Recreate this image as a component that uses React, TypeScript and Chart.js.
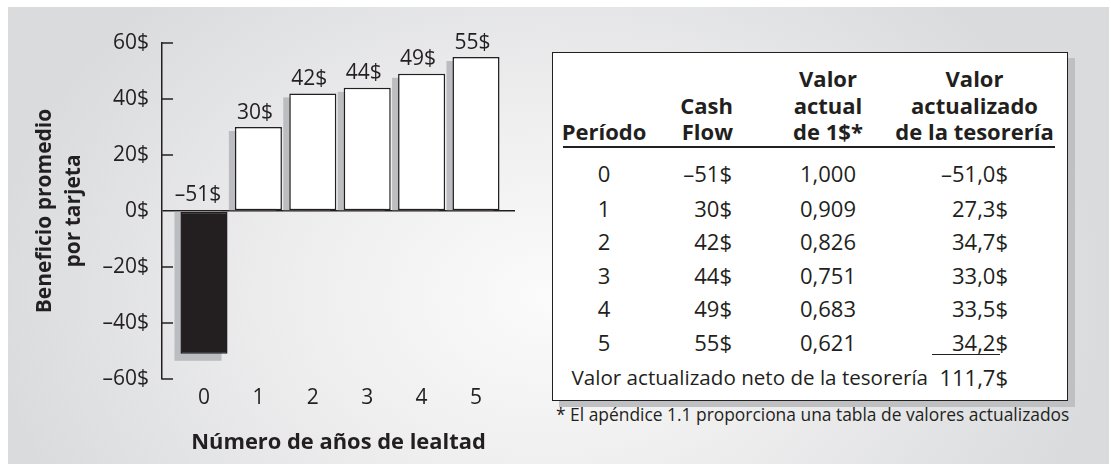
import React, { useEffect, useRef } from "react";
import { Chart, registerables } from "chart.js";

Chart.register(...registerables);

// ---- data ----
const periods = [0, 1, 2, 3, 4, 5];
const cashFlow = [-51, 30, 42, 44, 49, 55];
const pvFactor = [1.0, 0.909, 0.826, 0.751, 0.683, 0.621];
const pvCash = [-51.0, 27.3, 34.7, 33.0, 33.5, 34.2];
const npvTotal = 111.7;
const yTickValues = [-60, -40, -20, 0, 20, 40, 60];
const xTitle = "Número de años de lealtad";
const yTitle = ["Beneficio promedio", "por tarjeta"];
const headers = {
  period: ["Período"],
  cash: ["Cash", "Flow"],
  factor: ["Valor", "actual", "de 1$*"],
  pv: ["Valor", "actualizado", "de la tesorería"],
};
const npvLabel = "Valor actualizado neto de la tesorería";
const footnote = "* El apéndice 1.1 proporciona una tabla de valores actualizados";

const DARK = "#231f20";
const SHADOW = "#bcbdc0";
const FONT = "'Open Sans', 'Noto Sans', sans-serif";

const money = (v: number, d = 0) =>
  (v < 0 ? "–" : "") + Math.abs(v).toFixed(d).replace(".", ",") + "$";
const dec = (v: number, d: number) => v.toFixed(d).replace(".", ",");

const shadowPlugin = {
  id: "barShadow",
  beforeDatasetsDraw(chart: any) {
    const meta = chart.getDatasetMeta(0);
    const ctx = chart.ctx;
    ctx.save();
    ctx.fillStyle = SHADOW;
    meta.data.forEach((el: any) => {
      const { x, y, base, width } = el.getProps(["x", "y", "base", "width"], true);
      const l = x - width / 2 - 6;
      if (y < base) {
        ctx.fillRect(l, y + 4, width, base - y - 4);
      } else {
        ctx.fillRect(l, base, width, y - base + 7);
      }
    });
    ctx.restore();
  },
  afterDatasetsDraw(chart: any) {
    const meta = chart.getDatasetMeta(0);
    const ctx = chart.ctx;
    ctx.save();
    ctx.fillStyle = DARK;
    ctx.font = `21px ${FONT}`;
    ctx.textAlign = "center";
    ctx.textBaseline = "alphabetic";
    meta.data.forEach((el: any, i: number) => {
      const { x, y, base } = el.getProps(["x", "y", "base"], true);
      const v = cashFlow[i];
      if (v >= 0) ctx.fillText(money(v), x - 3.5, y - 8.5);
      else ctx.fillText(money(v), x - 6, base - 11);
    });
    ctx.restore();
  },
  afterDraw(chart: any) {
    const ys = chart.scales.y;
    const ctx = chart.ctx;
    ctx.save();
    ctx.strokeStyle = DARK;
    ctx.lineWidth = 1.5;
    yTickValues.forEach((v) => {
      if (v === 0) return;
      const py = ys.getPixelForValue(v);
      ctx.beginPath();
      ctx.moveTo(chart.chartArea.left, py);
      ctx.lineTo(chart.chartArea.left + 11, py);
      ctx.stroke();
    });
    ctx.restore();
  },
};

function ChartCanvas() {
  const ref = useRef<HTMLCanvasElement>(null);
  useEffect(() => {
    if (!ref.current) return;
    const chart = new Chart(ref.current, {
      type: "bar",
      data: {
        datasets: [
          {
            data: periods.map((p, i) => ({ x: p, y: cashFlow[i] })),
            backgroundColor: cashFlow.map((v) => (v < 0 ? DARK : "#ffffff")),
            borderColor: DARK,
            borderWidth: 1.5,
            borderSkipped: false,
            barPercentage: 0.865,
            categoryPercentage: 1,
          },
        ],
      },
      options: {
        animation: false,
        responsive: false,
        maintainAspectRatio: false,
        events: [],
        layout: { padding: { top: 43, right: 25, bottom: 0, left: 0 } },
        plugins: { legend: { display: false }, tooltip: { enabled: false } },
        scales: {
          x: {
            type: "linear",
            offset: false,
            min: -0.772,
            max: 5.717,
            afterBuildTicks: (s: any) => {
              s.ticks = periods.map((v) => ({ value: v }));
            },
            afterFit: (s: any) => {
              s.height = 85;
            },
            grid: { display: false, drawTicks: false },
            border: { display: false },
            ticks: {
              color: DARK,
              font: { family: FONT, size: 21 },
              padding: 6,
              callback: (v: any) => String(v),
            },
            title: {
              display: true,
              text: xTitle,
              color: DARK,
              font: { family: FONT, size: 21.9, weight: "bold", lineHeight: 1.2 },
              padding: { top: 0, bottom: 8 },
            },
          },
          y: {
            min: -60,
            max: 60,
            afterBuildTicks: (s: any) => {
              s.ticks = yTickValues.map((v) => ({ value: v }));
            },
            afterFit: (s: any) => {
              s.width = 162;
            },
            grid: {
              drawTicks: false,
              color: (c: any) => (c.tick && c.tick.value === 0 ? DARK : "rgba(0,0,0,0)"),
              lineWidth: 1.5,
            },
            border: { display: true, color: DARK, width: 1.5 },
            ticks: {
              color: DARK,
              font: { family: FONT, size: 21 },
              padding: 13,
              callback: (v: any) => money(Number(v)),
            },
            title: {
              display: true,
              text: yTitle,
              color: DARK,
              font: { family: FONT, size: 21, weight: "bold", lineHeight: 1.4 },
              padding: { top: 30.3, bottom: 0 },
            },
          },
        },
      },
      plugins: [shadowPlugin],
    });
    return () => chart.destroy();
  }, []);
  return (
    <canvas
      ref={ref}
      width={540}
      height={464}
      style={{ position: "absolute", left: 0, top: 0, width: 540, height: 464 }}
    />
  );
}

type TProps = {
  x: number;
  y: number;
  align?: "left" | "center" | "right";
  bold?: boolean;
  size?: number;
  children: React.ReactNode;
};
function T({ x, y, align = "left", bold = false, size = 22, children }: TProps) {
  const tx = align === "center" ? "-50%" : align === "right" ? "-100%" : "0";
  return (
    <div
      style={{
        position: "absolute",
        left: x,
        top: y,
        transform: `translate(${tx}, -50%)`,
        whiteSpace: "nowrap",
        lineHeight: 1,
        fontSize: size,
        fontWeight: bold ? 700 : 400,
        fontFamily: FONT,
        color: DARK,
      }}
    >
      {children}
    </div>
  );
}

const headerLineY = [78, 104.5, 131];
const rowY = [173.3, 207.5, 241, 274.5, 308, 341.7];

function headerLines(lines: string[], x: number, align: "center" | "right") {
  const start = headerLineY.length - lines.length;
  return lines.map((l, i) => (
    <T key={l + i} x={x} y={headerLineY[start + i]} align={align} bold>
      {l}
    </T>
  ));
}

export default function App() {
  return (
    <div
      style={{
        position: "absolute",
        left: 0,
        top: 0,
        width: 1111,
        height: 464,
        background: "#ffffff",
        overflow: "hidden",
      }}
    >
      <div
        style={{
          position: "absolute",
          left: 8,
          top: 7,
          width: 1101,
          height: 457,
          background:
            "radial-gradient(ellipse 560px 420px at 540px 290px, #fbfbfb 0%, #eeeeef 45%, #dadbdd 100%)",
        }}
      />
      <ChartCanvas />
      <div
        style={{
          position: "absolute",
          left: 552,
          top: 52,
          width: 516,
          height: 349,
          boxSizing: "border-box",
          border: `1.5px solid ${DARK}`,
          background: "#ffffff",
          boxShadow: `7px 6px 0 #bfc0c2`,
        }}
      />
      {headerLines(headers.period, 604, "center")}
      {headerLines(headers.cash, 733, "right")}
      {headerLines(headers.factor, 828, "center")}
      {headerLines(headers.pv, 974.5, "center")}
      <div
        style={{
          position: "absolute",
          left: 563,
          top: 146.3,
          width: 492,
          height: 1.5,
          background: DARK,
        }}
      />
      {periods.map((p, i) => (
        <React.Fragment key={p}>
          <T x={604} y={rowY[i]} align="center">
            {String(p)}
          </T>
          <T x={732} y={rowY[i]} align="right">
            {money(cashFlow[i])}
          </T>
          <T x={828} y={rowY[i]} align="center">
            {dec(pvFactor[i], 3)}
          </T>
          <T x={1008} y={rowY[i]} align="right">
            {money(pvCash[i], 1)}
          </T>
        </React.Fragment>
      ))}
      <div
        style={{
          position: "absolute",
          left: 932,
          top: 353.5,
          width: 68,
          height: 1.5,
          background: DARK,
        }}
      />
      <T x={571.5} y={377} size={20.6}>
        {npvLabel}
      </T>
      <T x={1008} y={377} align="right">
        {money(npvTotal, 1)}
      </T>
      <T x={556} y={415} size={17.4}>
        {footnote}
      </T>
    </div>
  );
}
